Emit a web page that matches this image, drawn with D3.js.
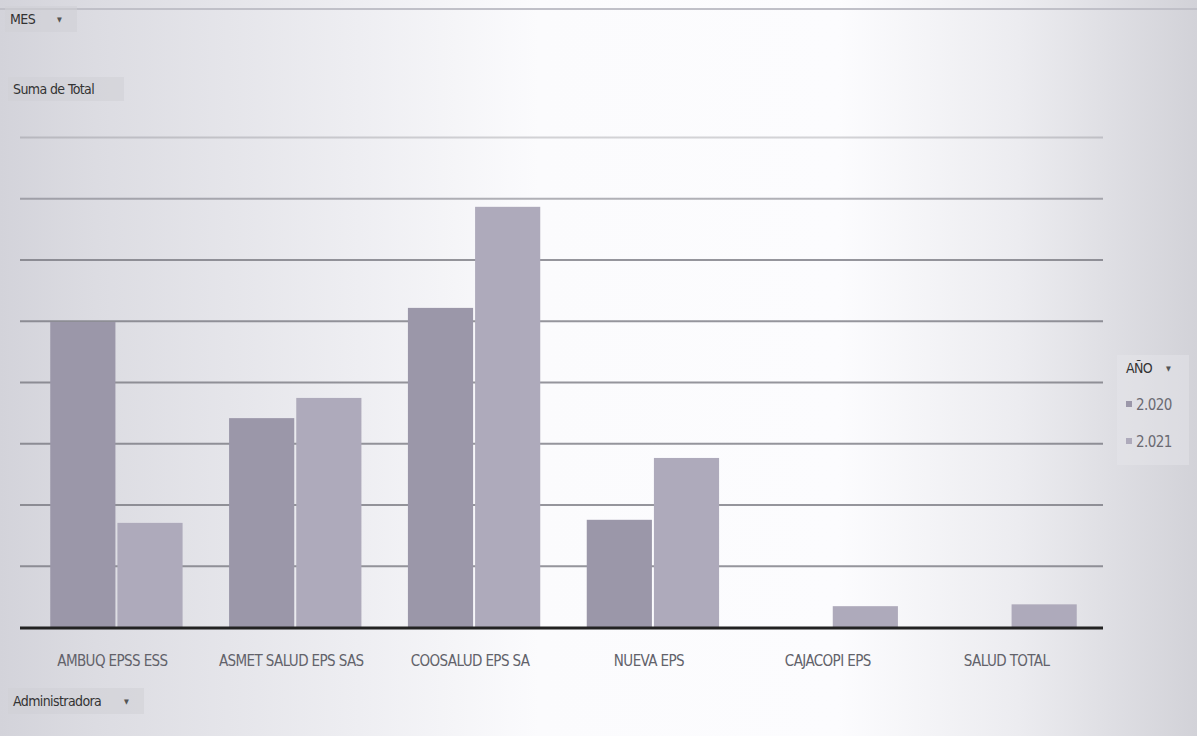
<!DOCTYPE html>
<html><head><meta charset="utf-8">
<script src="https://cdn.jsdelivr.net/npm/d3@7"></script>
<style>
html,body{margin:0;padding:0;background:#fff;}
svg{display:block;}
text{font-family:"Liberation Sans Narrow","DejaVu Sans Condensed",sans-serif;}
</style></head><body>
<svg id="chart" width="1197" height="736"></svg>
<script>
const categories = ["AMBUQ EPSS ESS","ASMET SALUD EPS SAS","COOSALUD EPS SA","NUEVA EPS","CAJACOPI EPS","SALUD TOTAL"];
const seriesNames = ["2.020","2.021"];
const values2020 = [4.98, 3.41, 5.21, 1.75, null, null];
const values2021 = [1.70, 3.74, 6.86, 2.76, 0.34, 0.37];
const yTicks = [0,1,2,3,4,5,6,7,8];

const svg = d3.select("#chart");
const W = 1197, H = 736;
const m = {left:27, right:97, top:137, bottom:109};

// photo-like background
const defs = svg.append("defs");
const g1 = defs.append("linearGradient").attr("id","bg").attr("x1","0").attr("x2","1").attr("y1","0").attr("y2","0");
[[0,"#d3d3da"],[0.08,"#dcdce2"],[0.3,"#eeeef2"],[0.45,"#fbfbfd"],[0.7,"#fcfcfe"],[0.85,"#ececf0"],[1,"#d2d2d8"]]
  .forEach(([o,c])=>g1.append("stop").attr("offset",o).attr("stop-color",c));
svg.append("rect").attr("width",W).attr("height",H).attr("fill","url(#bg)");
svg.append("line").attr("x1",0).attr("x2",W).attr("y1",9).attr("y2",9).attr("stroke","#c0c0c8").attr("stroke-width",2);

const x0 = d3.scaleBand().domain(categories).range([m.left, W - m.right]).paddingInner(0.26).paddingOuter(0.13);
const x1 = d3.scaleBand().domain(seriesNames).range([0, x0.bandwidth()]).padding(0);
const y = d3.scaleLinear().domain([0,8]).range([H - m.bottom, m.top]);

// gridlines via axis
const grid = svg.append("g").attr("transform",`translate(${20},0)`)
  .call(d3.axisLeft(y).tickValues(yTicks.slice(1)).tickSize(-(W - m.right + 3 - 20)).tickFormat(""));
grid.select(".domain").remove();
grid.selectAll(".tick line").attr("stroke","#73737b").attr("stroke-width",1.8).attr("stroke-opacity",d=>d===8?0.3:d===7?0.55:0.75);

const colors = {"2.020":"#9b97a9","2.021":"#aeaabb"};
const data = categories.map((c,i)=>({cat:c, vals:[{s:"2.020",v:values2020[i]},{s:"2.021",v:values2021[i]}]}));
const groups = svg.append("g").selectAll("g").data(data).join("g")
  .attr("transform",d=>`translate(${x0(d.cat)},0)`);
groups.selectAll("rect").data(d=>d.vals.filter(e=>e.v!=null)).join("rect")
  .attr("x",d=>x1(d.s)+ (d.s==="2.021"?1:0))
  .attr("width",d=>x1.bandwidth()-1)
  .attr("y",d=>y(d.v)).attr("height",d=>y(0)-y(d.v))
  .attr("fill",d=>colors[d.s]);

// baseline
svg.append("line").attr("x1",20).attr("x2",W - m.right + 3).attr("y1",y(0)+1).attr("y2",y(0)+1)
  .attr("stroke","#222").attr("stroke-width",3);

// x axis labels
const xa = svg.append("g").attr("transform",`translate(-4,${y(0)})`).call(d3.axisBottom(x0).tickSize(0).tickPadding(28));
xa.select(".domain").remove();
xa.selectAll("text").attr("font-size",15).attr("fill","#62626a").attr("letter-spacing","-0.6px");

// field buttons
function button(xp, yp, w, h, label, arrow){
  svg.append("rect").attr("x",xp).attr("y",yp).attr("width",w).attr("height",h).attr("fill","#cfcfd6").attr("opacity",0.55);
  svg.append("text").attr("x",xp+5).attr("y",yp+h/2+5).attr("font-size",14).attr("fill","#333").attr("letter-spacing","-0.6px").text(label);
  if(arrow) svg.append("text").attr("x",xp+w-20).attr("y",yp+h/2+3).attr("font-size",7).attr("fill","#555").text("▼");
}
button(5,6,72,26,"MES",true);
button(8,77,116,24,"Suma de Total",false);
button(8,688,136,26,"Administradora",true);

// legend
const lg = svg.append("g");
lg.append("rect").attr("x",1117).attr("y",355).attr("width",72).attr("height",110).attr("fill","#e6e6ea").attr("opacity",0.45);
lg.append("text").attr("x",1126).attr("y",373).attr("font-size",14).attr("fill","#333").attr("letter-spacing","-0.6px").text("AÑO");
lg.append("text").attr("x",1166).attr("y",371).attr("font-size",7).attr("fill","#555").text("▼");
seriesNames.forEach((s,i)=>{
  lg.append("rect").attr("x",1126).attr("y",401+i*37).attr("width",6).attr("height",6).attr("fill",colors[s]);
  lg.append("text").attr("x",1136).attr("y",410+i*37).attr("font-size",15).attr("fill","#6a6a72").attr("letter-spacing","-0.6px").text(s);
});
</script></body></html>
